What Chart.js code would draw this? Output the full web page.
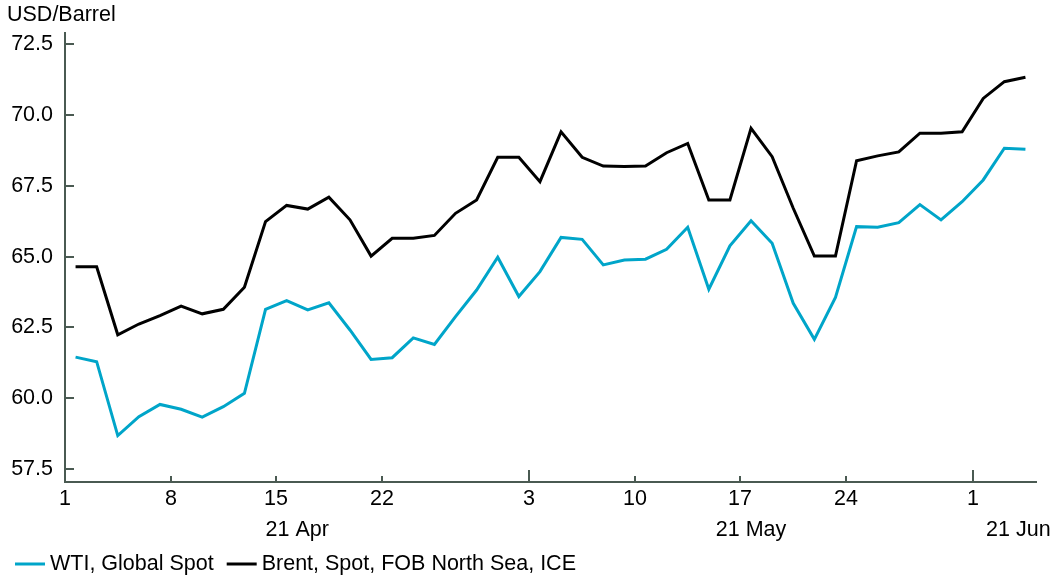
<!DOCTYPE html>
<html>
<head>
<meta charset="utf-8">
<script src="https://cdn.jsdelivr.net/npm/chart.js@4.4.1/dist/chart.umd.min.js"></script>
<style>
  body { margin: 0; background: #fff; }
  canvas { display: block; }
</style>
</head>
<body>
<canvas id="oilChart" width="1064" height="577"></canvas>
<script>
// trading days, 1 Apr - 3 Jun 2021
var dates = [
  '2021-04-01','2021-04-02','2021-04-05','2021-04-06','2021-04-07','2021-04-08','2021-04-09',
  '2021-04-12','2021-04-13','2021-04-14','2021-04-15','2021-04-16',
  '2021-04-19','2021-04-20','2021-04-21','2021-04-22','2021-04-23',
  '2021-04-26','2021-04-27','2021-04-28','2021-04-29','2021-04-30',
  '2021-05-03','2021-05-04','2021-05-05','2021-05-06','2021-05-07',
  '2021-05-10','2021-05-11','2021-05-12','2021-05-13','2021-05-14',
  '2021-05-17','2021-05-18','2021-05-19','2021-05-20','2021-05-21',
  '2021-05-24','2021-05-25','2021-05-26','2021-05-27','2021-05-28','2021-05-31',
  '2021-06-01','2021-06-02','2021-06-03'
];

var wti = [
  61.45, 61.29, 58.68, 59.35, 59.78, 59.61, 59.33, 59.70, 60.17, 63.14, 63.45, 63.12,
  63.37, 62.41, 61.37, 61.43, 62.13, 61.90, 62.88, 63.82, 64.98, 63.59, 64.47, 65.68,
  65.61, 64.71, 64.88, 64.91, 65.26, 66.04, 63.85, 65.38, 66.27, 65.47, 63.35, 62.08,
  63.56, 66.06, 66.04, 66.20, 66.84, 66.30, 66.94, 67.71, 68.83, 68.79
];

var brent = [
  64.64, 64.64, 62.24, 62.62, 62.92, 63.25, 62.98, 63.14, 63.92, 66.24, 66.81, 66.68,
  67.10, 66.30, 65.02, 65.65, 65.65, 65.75, 66.53, 67.00, 68.51, 68.51, 67.65, 69.41,
  68.51, 68.20, 68.18, 68.20, 68.67, 69.00, 67.00, 67.00, 69.53, 68.53, 66.71, 65.02,
  65.02, 68.39, 68.56, 68.70, 69.36, 69.36, 69.41, 70.59, 71.18, 71.34
];

var yTicks = [57.5, 60.0, 62.5, 65.0, 67.5, 70.0, 72.5];
var xTickDates = ['2021-04-01','2021-04-08','2021-04-15','2021-04-22','2021-05-03','2021-05-10','2021-05-17','2021-05-24','2021-06-01'];
var xTickLabels = ['1','8','15','22','3','10','17','24','1'];
var monthStarts = ['2021-04-01','2021-05-03','2021-06-01'];
var monthLabels = ['21 Apr','21 May','21 Jun'];
var yUnit = 'USD/Barrel';

var FONT = "'Liberation Sans', Arial, sans-serif";
var axisColor = '#4a5a52';

// tick marks, x labels, unit and legend
var axisDecor = {
  id: 'axisDecor',
  afterDraw: function(chart) {
    var ctx = chart.ctx, xs = chart.scales.x, ys = chart.scales.y, area = chart.chartArea;
    var half = (xs.getPixelForValue(1) - xs.getPixelForValue(0)) / 2;
    function line(x1, y1, x2, y2) {
      ctx.beginPath(); ctx.moveTo(x1, y1); ctx.lineTo(x2, y2); ctx.stroke();
    }
    ctx.save();
    ctx.strokeStyle = axisColor;
    ctx.lineWidth = 2;
    yTicks.forEach(function(v) {
      var py = Math.round(ys.getPixelForValue(v));
      line(area.left, py, area.left + 9, py);
    });

    ctx.font = '21.5px ' + FONT;
    ctx.fillStyle = '#000';
    ctx.textAlign = 'center';
    ctx.textBaseline = 'middle';
    xTickDates.forEach(function(d, k) {
      var px = Math.round(xs.getPixelForValue(dates.indexOf(d)) - half);
      var len = monthStarts.indexOf(d) >= 0 ? 12 : 6;
      line(px, area.bottom, px, area.bottom - len);
      ctx.fillText(xTickLabels[k], px, area.bottom + 17);
    });
    monthStarts.forEach(function(d, k) {
      var left = xs.getPixelForValue(dates.indexOf(d)) - half;
      var right = k + 1 < monthStarts.length
        ? xs.getPixelForValue(dates.indexOf(monthStarts[k + 1])) - half
        : chart.width;
      ctx.fillText(monthLabels[k], (left + right) / 2, area.bottom + 48);
    });

    ctx.textAlign = 'left';
    ctx.fillText(yUnit, 7, 15);

    // legend
    var lx = 15, ly = 564;
    chart.data.datasets.forEach(function(ds) {
      ctx.strokeStyle = ds.borderColor;
      ctx.lineWidth = 3;
      line(lx, ly, lx + 30, ly);
      ctx.fillText(ds.label, lx + 35, ly);
      lx += 35 + ctx.measureText(ds.label).width + 13;
    });
    ctx.restore();
  }
};

var ctx = document.getElementById('oilChart').getContext('2d');
var chart = new Chart(ctx, {
  type: 'line',
  data: {
    labels: dates,
    datasets: [{
      label: 'WTI, Global Spot',
      data: wti,
      borderColor: '#00a5c9',
      backgroundColor: '#00a5c9',
      borderWidth: 3
    }, {
      label: 'Brent, Spot, FOB North Sea, ICE',
      data: brent,
      borderColor: '#000000',
      backgroundColor: '#000000',
      borderWidth: 3
    }]
  },
  options: {
    responsive: false,
    animation: false,
    layout: { padding: { top: 33, right: 28, left: 0, bottom: 0 } },
    elements: { point: { radius: 0 }, line: { tension: 0 } },
    plugins: { legend: { display: false }, tooltip: { enabled: false } },
    scales: {
      x: {
        type: 'category',
        offset: true,
        grid: { display: false, drawTicks: false },
        border: { display: true, color: axisColor, width: 2 },
        ticks: { display: false },
        afterFit: function(scale) { scale.height = 95; }
      },
      y: {
        min: 57.04,
        max: 72.9,
        grid: { display: false, drawTicks: false },
        border: { display: true, color: axisColor, width: 2 },
        ticks: {
          padding: 12,
          color: '#000',
          font: { family: FONT, size: 21.5 },
          callback: function(v) { return Number(v).toFixed(1); }
        },
        afterBuildTicks: function(scale) {
          scale.ticks = yTicks.map(function(v) { return { value: v }; });
        },
        afterFit: function(scale) { scale.width = 65; }
      }
    }
  },
  plugins: [axisDecor]
});
</script>
</body>
</html>
